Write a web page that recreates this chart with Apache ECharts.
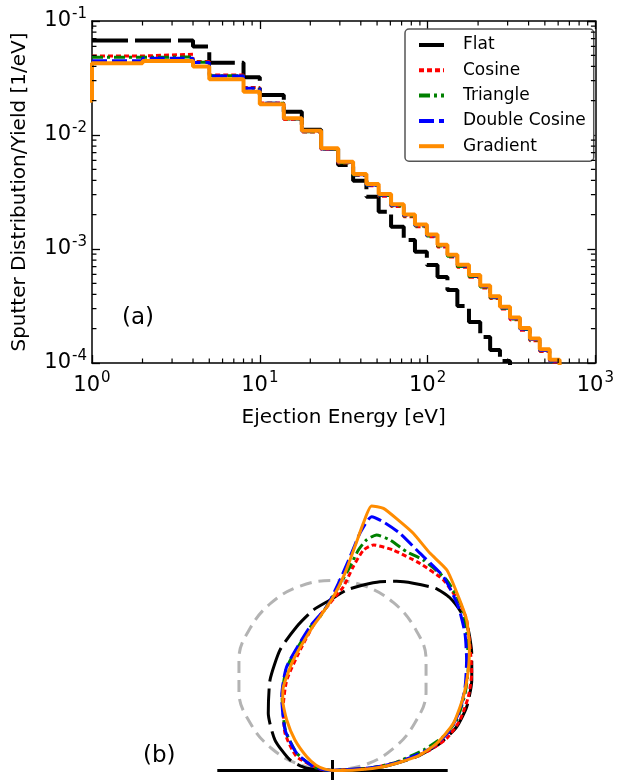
<!DOCTYPE html>
<html><head><meta charset="utf-8">
<script src="https://cdn.jsdelivr.net/npm/echarts@6/dist/echarts.min.js"></script>
<style>html,body{margin:0;padding:0;background:#fff}#c{width:617px;height:780px}</style>
</head><body><div id="c"></div>
<script>
// ---------- Panel (a): sputtered energy distributions (histogram bins) ----------
const seriesNames = ['Flat', 'Cosine', 'Triangle', 'Double Cosine', 'Gradient'];
const energyEdges = [0.5, 1, 2, 4, 5, 8, 10, 13.9, 17.8, 23.2, 29.3, 36, 43.2, 51.1, 60.6, 72.1, 84.1, 99, 114.6, 131.3, 150.5, 176.5, 206, 236, 270, 310, 355, 407, 466, 534, 612, 702];
const flatValues = [null, 0.0673, 0.0673, 0.0596, 0.0430, 0.0321, 0.0224, 0.0160, 0.0111, 0.00755, 0.00546, 0.00397, 0.00288, 0.00212, 0.00157, 0.00120, 0.000946, 0.000724, 0.000568, 0.000436, 0.000316, 0.000229, 0.000169, 0.000130, 0.000104, 0.000082, null, null, null, null, null];
const cosineValues = [null, 0.0493, 0.0511, 0.0441, 0.0336, 0.0261, 0.0191, 0.0137, 0.0106, 0.00745, 0.00568, 0.00443, 0.00359, 0.00290, 0.00236, 0.00192, 0.00157, 0.00128, 0.00104, 0.000849, 0.000693, 0.000565, 0.000456, 0.000368, 0.000297, 0.000240, 0.000194, 0.000157, 0.000126, 0.000102, 0.000082];
const triangleValues = [null, 0.0481, 0.0483, 0.0435, 0.0331, 0.0257, 0.0190, 0.0138, 0.0107, 0.00750, 0.00572, 0.00446, 0.00362, 0.00295, 0.00240, 0.00195, 0.00159, 0.00130, 0.00106, 0.000862, 0.000704, 0.000574, 0.000464, 0.000373, 0.000302, 0.000243, 0.000197, 0.000159, 0.000128, 0.000103, 0.000083];
const doubleCosineValues = [null, 0.0449, 0.0471, 0.0433, 0.0330, 0.0257, 0.0190, 0.0139, 0.0108, 0.00755, 0.00575, 0.00449, 0.00365, 0.00297, 0.00242, 0.00197, 0.00161, 0.00131, 0.00107, 0.000871, 0.000711, 0.000580, 0.000468, 0.000377, 0.000305, 0.000246, 0.000199, 0.000161, 0.000129, 0.000104, 0.000084];
const gradientValues = [0.020, 0.0426, 0.0446, 0.0398, 0.0308, 0.0240, 0.0186, 0.0140, 0.0109, 0.00764, 0.00583, 0.00455, 0.00371, 0.00303, 0.00247, 0.00201, 0.00164, 0.00134, 0.00109, 0.000889, 0.000726, 0.000592, 0.000478, 0.000385, 0.000311, 0.000251, 0.000203, 0.000164, 0.000132, 0.000107, 0.000086];

// axis range and ticks
const xRange = [1, 1000];
const yRange = [1e-4, 1e-1];
const xMinorTicks = [2,3,4,5,6,7,8,9,20,30,40,50,60,70,80,90,200,300,400,500,600,700,800,900];
const yMinorTicks = [2e-4,3e-4,4e-4,5e-4,6e-4,7e-4,8e-4,9e-4,2e-3,3e-3,4e-3,5e-3,6e-3,7e-3,8e-3,9e-3,2e-2,3e-2,4e-2,5e-2,6e-2,7e-2,8e-2,9e-2];

// ---------- Panel (b): angular distributions, angle from surface normal (deg) and radius (cosine max ~ 1) ----------
const cosineRefAngle = [-90,-80,-70,-60,-50,-40,-30,-20,-10,0,10,20,30,40,50,60,70,80,90];
const cosineRefR     = [0,0.172,0.339,0.495,0.636,0.758,0.857,0.930,0.975,0.99,0.975,0.930,0.857,0.758,0.636,0.495,0.339,0.172,0];
const flatPolarAngle = [-90,-85.1,-76.1,-62.1,-48.3,-34.6,-23.5,-14.0,-6.8,-0.8,4.5,9.4,14.1,18.7,23.3,29.5,34.1,39.4,44.0,49.9,57.0,64.6,70.6,75.8,80.7,85.7,90];
const flatPolarR     = [0,0.135,0.228,0.339,0.448,0.573,0.685,0.772,0.842,0.888,0.943,0.979,1.014,1.040,1.062,1.090,1.088,1.060,1.018,0.948,0.865,0.774,0.686,0.578,0.444,0.265,0];
const cosinePolarAngle = [-90,-84,-68.9,-51.9,-37.6,-26.8,-15,-6,-0.9,3.4,5.8,8.0,10.3,15.4,20.1,22.9,30.2,37.3,41.7,48.0,55.1,61.5,68.4,74.3,78.7,83.2,87,90];
const cosinePolarR     = [0,0.06,0.200,0.314,0.420,0.528,0.65,0.79,0.871,0.959,1.067,1.159,1.194,1.191,1.177,1.171,1.148,1.095,1.050,0.964,0.884,0.805,0.714,0.618,0.500,0.319,0.17,0];
const trianglePolarAngle = [-90,-84,-78.8,-64.3,-49.5,-34.5,-23.8,-8.5,-4.6,1.3,4.9,6.7,8.4,10.6,14.0,18.7,23.3,30.9,38.3,44.4,52.6,59.8,67.9,73.0,77.3,83.2,87,90];
const trianglePolarR     = [0,0.05,0.10,0.205,0.322,0.463,0.588,0.76,0.804,0.940,1.065,1.156,1.214,1.248,1.237,1.203,1.194,1.157,1.087,1.000,0.890,0.799,0.698,0.603,0.485,0.319,0.17,0];
const doubleCosinePolarAngle = [-90,-84,-78.8,-64.3,-49.5,-34.5,-23.8,-8.9,-2.0,1.8,4.7,6.6,8.8,11.5,15.9,21.9,29.8,37.5,44.0,50.5,57.7,64.6,71.0,76.7,82.6,86,90];
const doubleCosinePolarR     = [0,0.05,0.102,0.207,0.325,0.467,0.591,0.758,0.854,0.975,1.117,1.244,1.338,1.322,1.284,1.220,1.163,1.076,0.993,0.905,0.817,0.735,0.647,0.539,0.355,0.2,0];
const gradientPolarAngle = [-90,-80,-72,-61.9,-50.9,-42.2,-35.2,-30.4,-19.5,-8.3,-4.6,0.3,3.6,5.7,7.1,8.4,11.0,15.2,18.8,24.2,29.7,35.9,41.7,47.9,53.5,60.6,68.7,75.4,80.7,85.7,88.5,90];
const gradientPolarR     = [0,0.04,0.09,0.152,0.252,0.355,0.450,0.506,0.611,0.749,0.804,0.905,1.029,1.171,1.297,1.393,1.391,1.343,1.305,1.240,1.202,1.118,1.050,0.961,0.880,0.782,0.676,0.561,0.444,0.265,0.12,0];
const surfaceAngle = [-90, 90];
const surfaceR = [0.6, 0.6];
const normalTickAngle = [0, 180];
const normalTickR = [0.055, 0.055];

const FF = 'DejaVu Sans';
const colors = ['#000000', '#ff0000', '#008000', '#0000ff', '#ff8c00'];
const dashes = [[36, 7], [5, 3], [11, 4, 3, 4], [15, 5], 'solid'];
const widthsA = [4, 3, 3, 3, 4];
const GRID = { left: 92, top: 21, width: 508, height: 342 };

function stepData(values) {
  const d = values.map((v, i) => [energyEdges[i], v]);
  d.push([energyEdges[values.length], values[values.length - 1]]);
  return d;
}
function polarData(ang, r) { return ang.map((a, i) => [r[i], a]); }
function powFmt(v) {
  const e = Math.round(Math.log10(v));
  return '{b|10}{s|' + (e < 0 ? '-' : '') + Math.abs(e) + '}';
}
const richPow = {
  b: { fontSize: 21, fontFamily: FF, color: '#000', lineHeight: 21, verticalAlign: 'bottom' },
  s: { fontSize: 15, fontFamily: FF, color: '#000', lineHeight: 15, verticalAlign: 'bottom', padding: [0, 0, 10, 1] }
};

const valuesA = [flatValues, cosineValues, triangleValues, doubleCosineValues, gradientValues];
const series = [];
valuesA.forEach((vals, i) => {
  series.push({
    name: seriesNames[i], type: 'line', step: 'end', xAxisIndex: 0, yAxisIndex: 0,
    symbol: 'none', clip: true, silent: true,
    data: stepData(vals),
    lineStyle: { color: colors[i], width: widthsA[i], type: dashes[i] },
    itemStyle: { color: colors[i] }
  });
});

// minor ticks (inside, on all four sides) as short segments on the log axes
const MINOR_LEN = 4.5;
const fy = Math.pow(10, MINOR_LEN / (GRID.height / Math.log10(yRange[1] / yRange[0])));
const fx = Math.pow(10, MINOR_LEN / (GRID.width / Math.log10(xRange[1] / xRange[0])));
const minorSeg = [];
xMinorTicks.forEach(v => {
  minorSeg.push([v, yRange[0]], [v, yRange[0] * fy], [v, null]);
  minorSeg.push([v, yRange[1]], [v, yRange[1] / fy], [v, null]);
});
yMinorTicks.forEach(v => {
  minorSeg.push([xRange[0], v], [xRange[0] * fx, v], [null, v]);
  minorSeg.push([xRange[1], v], [xRange[1] / fx, v], [null, v]);
});
series.push({
  name: 'minor ticks', type: 'line', xAxisIndex: 0, yAxisIndex: 0, symbol: 'none', silent: true,
  clip: false, connectNulls: false, z: 5, data: minorSeg,
  lineStyle: { color: '#000', width: 1.2 }
});

// panel (b)
const polarLine = (name, data, color, width, type, smooth) => ({
  name, type: 'line', coordinateSystem: 'polar', polarIndex: 0, symbol: 'none', silent: true,
  smooth: smooth, data, lineStyle: { color, width, type }, itemStyle: { color }
});
series.push(polarLine('surface', polarData(surfaceAngle, surfaceR), '#000', 3, 'solid', false));
series.push(polarLine('normal', polarData(normalTickAngle, normalTickR), '#000', 3, 'solid', false));
series.push(polarLine('cosine reference', polarData(cosineRefAngle, cosineRefR), '#b3b3b3', 3, [12, 7], 0.4));
const polarSets = [
  [flatPolarAngle, flatPolarR], [cosinePolarAngle, cosinePolarR], [trianglePolarAngle, trianglePolarR],
  [doubleCosinePolarAngle, doubleCosinePolarR], [gradientPolarAngle, gradientPolarR]
];
polarSets.forEach((p, i) => {
  series.push(polarLine(seriesNames[i], polarData(p[0], p[1]), colors[i], 3, dashes[i], 0.2));
});

const majorAxisLine = { lineStyle: { color: '#000', width: 1.5 } };
const majorTick = { inside: true, length: 8, lineStyle: { color: '#000', width: 1.3 } };
const option = {
  animation: false,
  backgroundColor: '#fff',
  grid: [GRID],
  legend: {
    data: seriesNames, orient: 'vertical', left: 405, top: 29,
    padding: [6, 8, 5, 12], itemWidth: 25, itemHeight: 14, itemGap: 5.3,
    borderColor: '#555', borderWidth: 1.5, borderRadius: 4, backgroundColor: '#fff',
    selectedMode: false,
    itemStyle: { opacity: 0 },
    lineStyle: { width: 4 },
    textStyle: { fontFamily: FF, fontSize: 17, color: '#000', lineHeight: 20, padding: [0, 0, 0, 14] }
  },
  xAxis: [
    { type: 'log', logBase: 10, min: xRange[0], max: xRange[1], position: 'bottom',
      axisLine: majorAxisLine, axisTick: majorTick,
      axisLabel: { formatter: powFmt, rich: richPow, margin: 12 },
      splitLine: { show: false },
      name: 'Ejection Energy [eV]', nameLocation: 'middle', nameGap: 45,
      nameTextStyle: { fontFamily: FF, fontSize: 20, color: '#000' } },
    { type: 'log', logBase: 10, min: xRange[0], max: xRange[1], position: 'top',
      axisLine: majorAxisLine, axisTick: majorTick,
      axisLabel: { show: false }, splitLine: { show: false } }
  ],
  yAxis: [
    { type: 'log', logBase: 10, min: yRange[0], max: yRange[1], position: 'left',
      axisLine: majorAxisLine, axisTick: majorTick,
      axisLabel: { formatter: powFmt, rich: richPow, margin: 5 },
      splitLine: { show: false },
      name: 'Sputter Distribution/Yield [1/eV]', nameLocation: 'middle', nameGap: 62,
      nameTextStyle: { fontFamily: FF, fontSize: 20, color: '#000' } },
    { type: 'log', logBase: 10, min: yRange[0], max: yRange[1], position: 'right',
      axisLine: majorAxisLine, axisTick: majorTick,
      axisLabel: { show: false }, splitLine: { show: false } }
  ],
  polar: { center: [332.5, 770.5], radius: 288 },
  angleAxis: { type: 'value', min: -180, max: 180, startAngle: 270, clockwise: true, show: false,
    axisLine: { show: false }, axisTick: { show: false }, axisLabel: { show: false }, splitLine: { show: false } },
  radiusAxis: { type: 'value', min: 0, max: 1.5, show: false,
    axisLine: { show: false }, axisTick: { show: false }, axisLabel: { show: false }, splitLine: { show: false } },
  graphic: [
    { type: 'text', left: 122, top: 307, style: { text: '(a)', font: '23px "DejaVu Sans"', fill: '#000' } },
    { type: 'text', left: 143, top: 745, style: { text: '(b)', font: '23px "DejaVu Sans"', fill: '#000' } }
  ],
  series: series
};
const chart = echarts.init(document.getElementById('c'), null, { renderer: 'canvas', width: 617, height: 780 });
chart.setOption(option);
</script>
</body></html>
